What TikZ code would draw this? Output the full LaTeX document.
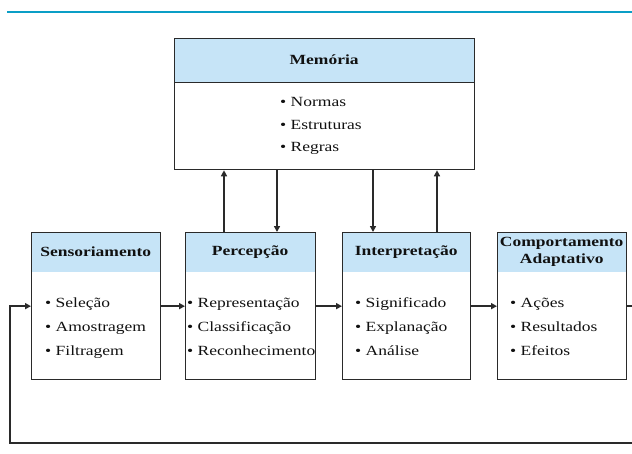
\documentclass[tikz,border=0pt]{standalone}
\usepackage{fontspec}
\setmainfont{Liberation Serif}[FakeStretch=1.25]
\usetikzlibrary{arrows.meta}
\definecolor{hdr}{HTML}{C6E4F7}
\definecolor{rulecol}{HTML}{0A9EC6}
\definecolor{edge}{HTML}{2A2A2A}
\definecolor{txt}{HTML}{111111}
\begin{document}
\begin{tikzpicture}[x=1pt,y=-1pt,
  box/.style={draw=edge, line width=1.3pt, rectangle, inner sep=0pt, anchor=north west},
  hdrbox/.style={fill=hdr, inner sep=0pt, anchor=north west, text=txt,
    font=\fontsize{14}{17}\selectfont\bfseries, align=center},
  itm/.style={anchor=base west, inner sep=0pt, text=txt, font=\fontsize{14}{17}\selectfont},
  link/.style={draw=edge, line width=1.5pt, -{Triangle[length=6pt,width=6pt]}},
]
\useasboundingbox (0,0) rectangle (632,453);
\clip (0,0) rectangle (632,453);
\fill[white] (0,0) rectangle (632,453);
\draw[rulecol, line width=2.5pt] (7,12) -- (632,12);

% Memoria
\node[hdrbox, minimum width=300pt, minimum height=44pt] (memh) at (174,38) {Memória};
\node[box, minimum width=300pt, minimum height=131pt] (mem) at (174,38) {};
\draw[edge, line width=1pt] (memh.south west) -- (memh.south east);
\node[itm] (m1) at (280,106) {• Normas};
\node[itm] (m2) at (280,129) {• Estruturas};
\node[itm] (m3) at (280,151) {• Regras};

% Sensoriamento
\node[hdrbox, minimum width=129pt, minimum height=40pt] (sensh) at (31,232) {Sensoriamento};
\node[box, minimum width=129pt, minimum height=147pt] (sens) at (31,232) {};
\node[itm] (s1) at (45,307) {• Seleção};
\node[itm] (s2) at (45,331) {• Amostragem};
\node[itm] (s3) at (45,355) {• Filtragem};

% Percepcao
\node[hdrbox, minimum width=130pt, minimum height=40pt] (perch) at (185,232) {Percepção};
\node[box, minimum width=130pt, minimum height=147pt] (perc) at (185,232) {};
\node[itm] (p1) at (187,307) {• Representação};
\node[itm] (p2) at (187,331) {• Classificação};
\node[itm] (p3) at (187,355) {• Reconhecimento};

% Interpretacao
\node[hdrbox, minimum width=128pt, minimum height=40pt] (inth) at (342,232) {Interpretação};
\node[box, minimum width=128pt, minimum height=147pt] (int) at (342,232) {};
\node[itm] (i1) at (355,307) {• Significado};
\node[itm] (i2) at (355,331) {• Explanação};
\node[itm] (i3) at (355,355) {• Análise};

% Comportamento Adaptativo
\node[hdrbox, minimum width=129pt, minimum height=40pt] (comph) at (497,232) {Comportamento\\Adaptativo};
\node[box, minimum width=129pt, minimum height=147pt] (comp) at (497,232) {};
\node[itm] (c1) at (510,307) {• Ações};
\node[itm] (c2) at (510,331) {• Resultados};
\node[itm] (c3) at (510,355) {• Efeitos};

% horizontal flow
\draw[link] (sens.east) -- (perc.west);
\draw[link] (perc.east) -- (int.west);
\draw[link] (int.east) -- (comp.west);

% memory links
\draw[link] ([xshift=39pt]perc.north west) -- ([xshift=39pt]perc.north west |- mem.south);
\draw[link] ([xshift=92pt]perc.north west |- mem.south) -- ([xshift=92pt]perc.north west);
\draw[link] ([xshift=31pt]int.north west |- mem.south) -- ([xshift=31pt]int.north west);
\draw[link] ([xshift=95pt]int.north west) -- ([xshift=95pt]int.north west |- mem.south);

% feedback loop
\coordinate (fbr) at (645,443);
\coordinate (fbl) at (10,443);
\draw[link] (comp.east) -| (fbr) -- (fbl) |- (sens.west);
\end{tikzpicture}
\end{document}
